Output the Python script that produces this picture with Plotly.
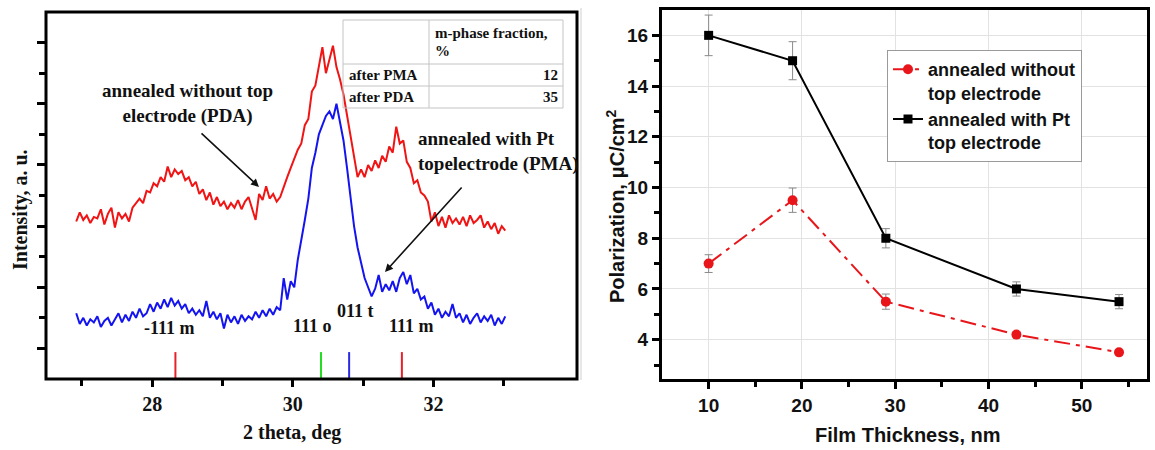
import plotly.graph_objects as go

W, H = 1155, 450


def px(x):
    return x / W


def py(y):
    return 1 - y / H


# ---------------- Left panel: XRD patterns ----------------
two_theta_start = 26.92
two_theta_step = 0.05
red_pda = [
    5.15, 5.45, 5.2, 5.35, 5.1, 5.3, 5.25, 5.55, 5.05, 5.4,
    5.6, 4.95, 5.45, 5.25, 5.4, 5.15, 5.6, 5.75, 5.9, 5.75,
    6.15, 6.1, 6.4, 6.3, 6.6, 6.45, 6.95, 6.6, 6.85, 6.7,
    6.8, 6.5, 6.6, 6.3, 6.45, 6.05, 6.2, 5.85, 6.1, 5.7,
    5.95, 5.65, 5.8, 5.55, 5.75, 5.6, 5.85, 5.55, 5.8, 5.95,
    5.6, 5.2, 6.05, 5.85, 6.3, 5.9, 6.05, 5.8, 5.95, 6.3,
    6.6, 6.9, 7.2, 7.5, 7.7, 8.3, 8.5, 9.4, 9.6, 10.2,
    10.85, 10.0, 10.5, 10.9, 10.2, 9.8, 9.3, 8.6, 8.0, 7.2,
    6.6, 6.85, 6.6, 7.0, 6.8, 7.15, 6.9, 7.3, 7.1, 7.6,
    7.4, 8.25, 7.7, 7.8, 7.1, 6.9, 6.4, 6.5, 6.1, 6.0,
    5.8, 5.15, 5.45, 5.0, 5.3, 4.95, 5.35, 5.1, 5.25, 5.05,
    5.3, 5.0, 5.35, 5.1, 5.2, 5.35, 4.95, 5.15, 4.9, 5.1,
    4.75, 5.0, 4.85,
]
blue_pma = [
    2.15, 1.8, 2.0, 1.75, 1.95, 1.85, 2.05, 1.7, 1.9, 2.0,
    1.75, 1.95, 2.15, 1.85, 2.1, 1.9, 2.2, 2.0, 2.3, 2.05,
    2.15, 2.45, 2.2, 2.5, 2.3, 2.6, 2.35, 2.65, 2.4, 2.55,
    2.3, 2.45, 2.15, 2.3, 2.1, 2.25, 2.05, 2.55, 2.0, 2.2,
    1.95, 2.15, 1.65, 2.1, 1.85, 2.05, 1.8, 2.1, 1.9, 2.05,
    1.95, 2.2, 2.0, 2.25, 2.05, 2.3, 2.1, 2.35, 2.25, 3.3,
    2.6, 3.2, 3.0, 3.9, 4.5, 5.2, 5.9, 6.9, 7.4, 8.0,
    8.3, 8.6, 8.75, 8.5, 9.0, 8.4, 7.8, 6.9, 6.0, 5.0,
    4.3, 3.8, 3.3, 3.0, 2.7, 2.95, 3.4, 2.85, 3.1, 2.9,
    3.2, 2.85, 3.3, 3.5, 3.1, 3.4, 2.8, 2.95, 2.6, 2.7,
    2.3, 2.5, 2.1, 2.3, 2.0, 2.2, 2.05, 2.45, 2.0, 2.15,
    1.85, 2.1, 1.8, 2.0, 2.15, 1.85, 2.05, 1.9, 2.1, 1.75,
    2.0, 1.8, 2.05,
]
two_theta = [round(two_theta_start + two_theta_step * i, 2) for i in range(len(red_pda))]

ref_positions = [28.33, 30.40, 30.80, 31.55]
ref_colors = ["#e8202a", "#22dd22", "#2a2ae0", "#e8202a"]
ref_height = 0.88

peak_labels = ["-111 m", "111 o", "011 t", "111 m"]
peak_label_x = [28.24, 30.28, 30.89, 31.68]
peak_label_y = [1.67, 1.73, 2.22, 1.73]

table_header = ["m-phase fraction,", "%"]
table_rows = ["after PMA", "after PDA"]
m_phase_fraction = [12, 35]

# ---------------- Right panel: polarization ----------------
thickness = [10, 19, 29, 43, 54]
pol_pda = [7.0, 9.5, 5.5, 4.2, 3.5]
pol_pda_err = [0.35, 0.48, 0.3, 0.1, 0.08]
pol_pma = [16.0, 15.0, 8.0, 6.0, 5.5]
pol_pma_err = [0.8, 0.75, 0.38, 0.28, 0.28]

SERIF = "Liberation Serif"
SANS = "Liberation Sans"

fig = go.Figure()

fig.add_trace(go.Scatter(x=two_theta, y=red_pda, mode="lines",
                         line=dict(color="#f01414", width=2),
                         showlegend=False, xaxis="x", yaxis="y"))
fig.add_trace(go.Scatter(x=two_theta, y=blue_pma, mode="lines",
                         line=dict(color="#1414f0", width=2),
                         showlegend=False, xaxis="x", yaxis="y"))
for pos, col in zip(ref_positions, ref_colors):
    fig.add_trace(go.Scatter(x=[pos, pos], y=[0, ref_height], mode="lines",
                             line=dict(color=col, width=2),
                             showlegend=False, xaxis="x", yaxis="y"))

fig.add_trace(go.Scatter(
    x=thickness, y=pol_pda, mode="lines+markers",
    name="annealed without<br>top electrode",
    line=dict(color="#e8161b", width=2, dash="16px,6px,4px,6px"),
    marker=dict(symbol="circle", size=10, color="#e8161b"),
    error_y=dict(type="data", array=pol_pda_err, color="#8a8a8a", thickness=1, width=4),
    xaxis="x2", yaxis="y2"))
fig.add_trace(go.Scatter(
    x=thickness, y=pol_pma, mode="lines+markers",
    name="annealed with Pt<br>top electrode",
    line=dict(color="#000000", width=2),
    marker=dict(symbol="square", size=9, color="#000000"),
    error_y=dict(type="data", array=pol_pma_err, color="#8a8a8a", thickness=1, width=4),
    xaxis="x2", yaxis="y2"))


def note(x, y, text, size, family, xanchor="center", angle=0, align="center"):
    return dict(x=px(x), y=py(y), xref="paper", yref="paper", text=text,
                showarrow=False, xanchor=xanchor, yanchor="middle", align=align,
                textangle=angle, font=dict(family=family, size=size, color="#111"))


annotations = []
for txt, xx, yy in zip(peak_labels, peak_label_x, peak_label_y):
    annotations.append(dict(x=xx, y=yy, xref="x", yref="y", text=f"<b>{txt}</b>",
                            xanchor="center", yanchor="middle",
                            showarrow=False, font=dict(family=SERIF, size=18, color="#111")))

annotations += [
    note(187, 103, "<b>annealed without top<br>electrode (PDA)</b>", 19, SERIF),
    note(416, 151, "<b>annealed with Pt<br>topelectrode (PMA)</b>", 19, SERIF,
         xanchor="left", align="left"),
    dict(x=px(259), y=py(187), xref="paper", yref="paper", text="", showarrow=True,
         ax=-59, ay=-55, arrowhead=2, arrowsize=1, arrowwidth=1.6, arrowcolor="#111"),
    dict(x=px(385), y=py(272), xref="paper", yref="paper", text="", showarrow=True,
         ax=78, ay=-86, arrowhead=2, arrowsize=1, arrowwidth=1.6, arrowcolor="#111"),
    note(20, 210, "<b>Intensity, a. u.</b>", 20, SERIF, angle=-90),
    note(292, 432, "<b>2 theta, deg</b>", 20, SERIF),
    note(615, 206, "<b>Polarization, μC/cm<sup>2</sup></b>", 20, SANS, angle=-90),
    note(908, 435, "<b>Film Thickness, nm</b>", 20, SANS),
]

# table texts
annotations.append(note(433, 33, f"<b>{table_header[0]}</b>", 15, SERIF, xanchor="left"))
annotations.append(note(433, 51, f"<b>{table_header[1]}</b>", 15, SERIF, xanchor="left"))
for i, (row, val) in enumerate(zip(table_rows, m_phase_fraction)):
    yc = 75 + 22 * i
    annotations.append(note(347, yc, f"<b>{row}</b>", 15, SERIF, xanchor="left"))
    annotations.append(note(560, yc, f"<b>{val}</b>", 15, SERIF, xanchor="right"))

tbl_line = dict(color="#c4c4c4", width=1)
shapes = [
    dict(type="rect", xref="paper", yref="paper", x0=px(343), x1=px(563), y0=py(108), y1=py(20),
         line=tbl_line),
    dict(type="line", xref="paper", yref="paper", x0=px(429), x1=px(429), y0=py(108), y1=py(20),
         line=tbl_line),
    dict(type="line", xref="paper", yref="paper", x0=px(343), x1=px(563), y0=py(64), y1=py(64),
         line=tbl_line),
    dict(type="line", xref="paper", yref="paper", x0=px(343), x1=px(563), y0=py(86), y1=py(86),
         line=tbl_line),
    dict(type="line", xref="paper", yref="paper", x0=px(581), x1=px(581), y0=py(380), y1=py(8),
         line=dict(color="#cfcfcf", width=1)),
    # frame of the left panel
    dict(type="rect", xref="paper", yref="paper", x0=px(46), x1=px(577), y0=py(379), y1=py(12),
         line=dict(color="black", width=3), layer="above"),
]

fig.update_layout(
    width=W, height=H,
    margin=dict(l=0, r=0, t=0, b=0),
    paper_bgcolor="white", plot_bgcolor="white",
    annotations=annotations, shapes=shapes,
    xaxis=dict(domain=[px(46), px(577)], range=[26.49, 34.04],
               showline=False, showgrid=False, zeroline=False,
               ticks="outside", ticklen=7, tickwidth=2.5, tickcolor="black",
               tickvals=[28, 30, 32], ticktext=["28", "30", "32"],
               minor=dict(tickvals=[27, 29, 31, 33], ticks="outside", ticklen=6,
                          tickwidth=2.5, tickcolor="black"),
               tickfont=dict(family=SERIF, size=20, color="#111", weight="bold")),
    yaxis=dict(domain=[py(379), py(12)], range=[0, 12],
               showline=False, showgrid=False, zeroline=False, showticklabels=False,
               ticks="outside", ticklen=8, tickwidth=2.5, tickcolor="black",
               tickvals=[1, 3, 5, 7, 9, 11],
               minor=dict(tickvals=[2, 4, 6, 8, 10], ticks="outside", ticklen=6,
                          tickwidth=2.5, tickcolor="black")),
    xaxis2=dict(domain=[px(662), px(1147)], range=[5, 57], anchor="y2",
                showline=True, linecolor="black", linewidth=3, mirror=True,
                showgrid=True, gridcolor="#e2e2e2", gridwidth=1, zeroline=False,
                ticks="outside", ticklen=7, tickwidth=2.5, tickcolor="black",
                tickvals=[10, 20, 30, 40, 50],
                minor=dict(tickvals=[15, 25, 35, 45, 55], ticks="outside", ticklen=5,
                           tickwidth=2.5, tickcolor="black", showgrid=False),
                tickfont=dict(family=SANS, size=19, color="#111", weight="bold")),
    yaxis2=dict(domain=[py(379), py(10)], range=[2.45, 17], anchor="x2",
                showline=True, linecolor="black", linewidth=3, mirror=True,
                showgrid=True, gridcolor="#e2e2e2", gridwidth=1, zeroline=False,
                ticks="outside", ticklen=7, tickwidth=2.5, tickcolor="black",
                tickvals=[4, 6, 8, 10, 12, 14, 16],
                minor=dict(tickvals=[3, 5, 7, 9, 11, 13, 15], ticks="outside", ticklen=5,
                           tickwidth=2.5, tickcolor="black", showgrid=False),
                tickfont=dict(family=SANS, size=19, color="#111", weight="bold")),
    legend=dict(x=px(887), y=py(50), xanchor="left", yanchor="top",
                bordercolor="#9a9a9a", borderwidth=1, bgcolor="white",
                valign="top", tracegroupgap=0,
                font=dict(family=SANS, size=18, color="#111", weight="bold")),
)

fig.write_html(
    "out.html",
    config={"displayModeBar": False},
    post_script="document.body.style.margin='0px';document.body.style.padding='0px';"
                "document.body.style.overflow='hidden';",
)
